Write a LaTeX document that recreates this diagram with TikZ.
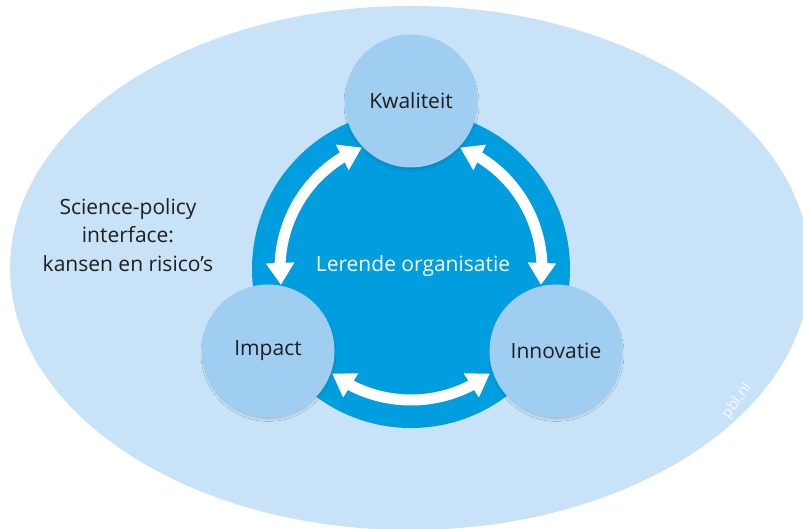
\documentclass[tikz,border=0pt]{standalone}
\usepackage{fontspec}
\setmainfont{Open Sans}
\usetikzlibrary{arrows.meta,bending,shadows.blur,calc,shapes.geometric}

\definecolor{outerblue}{HTML}{C8E3F7}
\definecolor{ballblue}{HTML}{9FCEF1}
\definecolor{coreblue}{HTML}{009DDF}
\definecolor{inktext}{HTML}{1E1E1E}

\tikzset{
  ball/.style={circle, fill=ballblue, minimum size=133pt, inner sep=0pt,
    text=inktext, font=\fontsize{21}{25}\selectfont,
    blur shadow={shadow xshift=0.5pt, shadow yshift=-3pt, shadow blur radius=3pt,
      shadow blur steps=12, shadow opacity=22, shadow scale=0.97}},
  loop/.style={draw=white, line width=11pt,
    {Triangle[width=27pt,length=22pt,flex]}-{Triangle[width=27pt,length=22pt,flex]}},
  caption/.style={text=inktext, font=\fontsize{21}{28.5}\selectfont, align=center}
}

\begin{document}
\begin{tikzpicture}[x=1pt,y=1pt]
  \useasboundingbox (0,0) rectangle (803,529);
  \begin{scope}
    \clip (0,0) rectangle (803,529);
    % outer field
    \node (field) [ellipse, fill=outerblue, minimum width=800pt, minimum height=524pt,
      inner sep=0pt] at (410,261) {};
  \end{scope}

  % learning organisation core
  \node (org) [circle, fill=coreblue, minimum size=318pt, inner sep=0pt] at (411,260) {};
  \node (orglabel) [text=white, font=\fontsize{21}{25}\selectfont] at (413,263)
    {Lerende organisatie};

  % the three pillars
  \node (kw) [ball] at (411,428) {Kwaliteit};
  \node (im) [ball] at (268,178) {Impact};
  \node (in) [ball] at (556,178) {Innovatie};

  % arrow ends on a ring around the core
  \coordinate (a1) at ($(org.center)+(112:131)$);
  \coordinate (a2) at ($(org.center)+(353:131)$);
  \coordinate (a3) at ($(org.center)+(233:131)$);

  \draw[loop] (a1) arc[start angle=112, end angle=187, radius=131];
  \draw[loop] (a2) arc[start angle=-7, end angle=68, radius=131];
  \draw[loop] (a3) arc[start angle=233, end angle=307, radius=131];

  % side caption
  \node (spi) [caption] at (128,294) {Science-policy\\interface:\\kansen en risico’s};

  % watermark
  \node (mark) [text=white, opacity=0.85, rotate=54, font=\fontsize{15}{18}\selectfont]
    at (737,128) {pbl.nl};
\end{tikzpicture}
\end{document}
